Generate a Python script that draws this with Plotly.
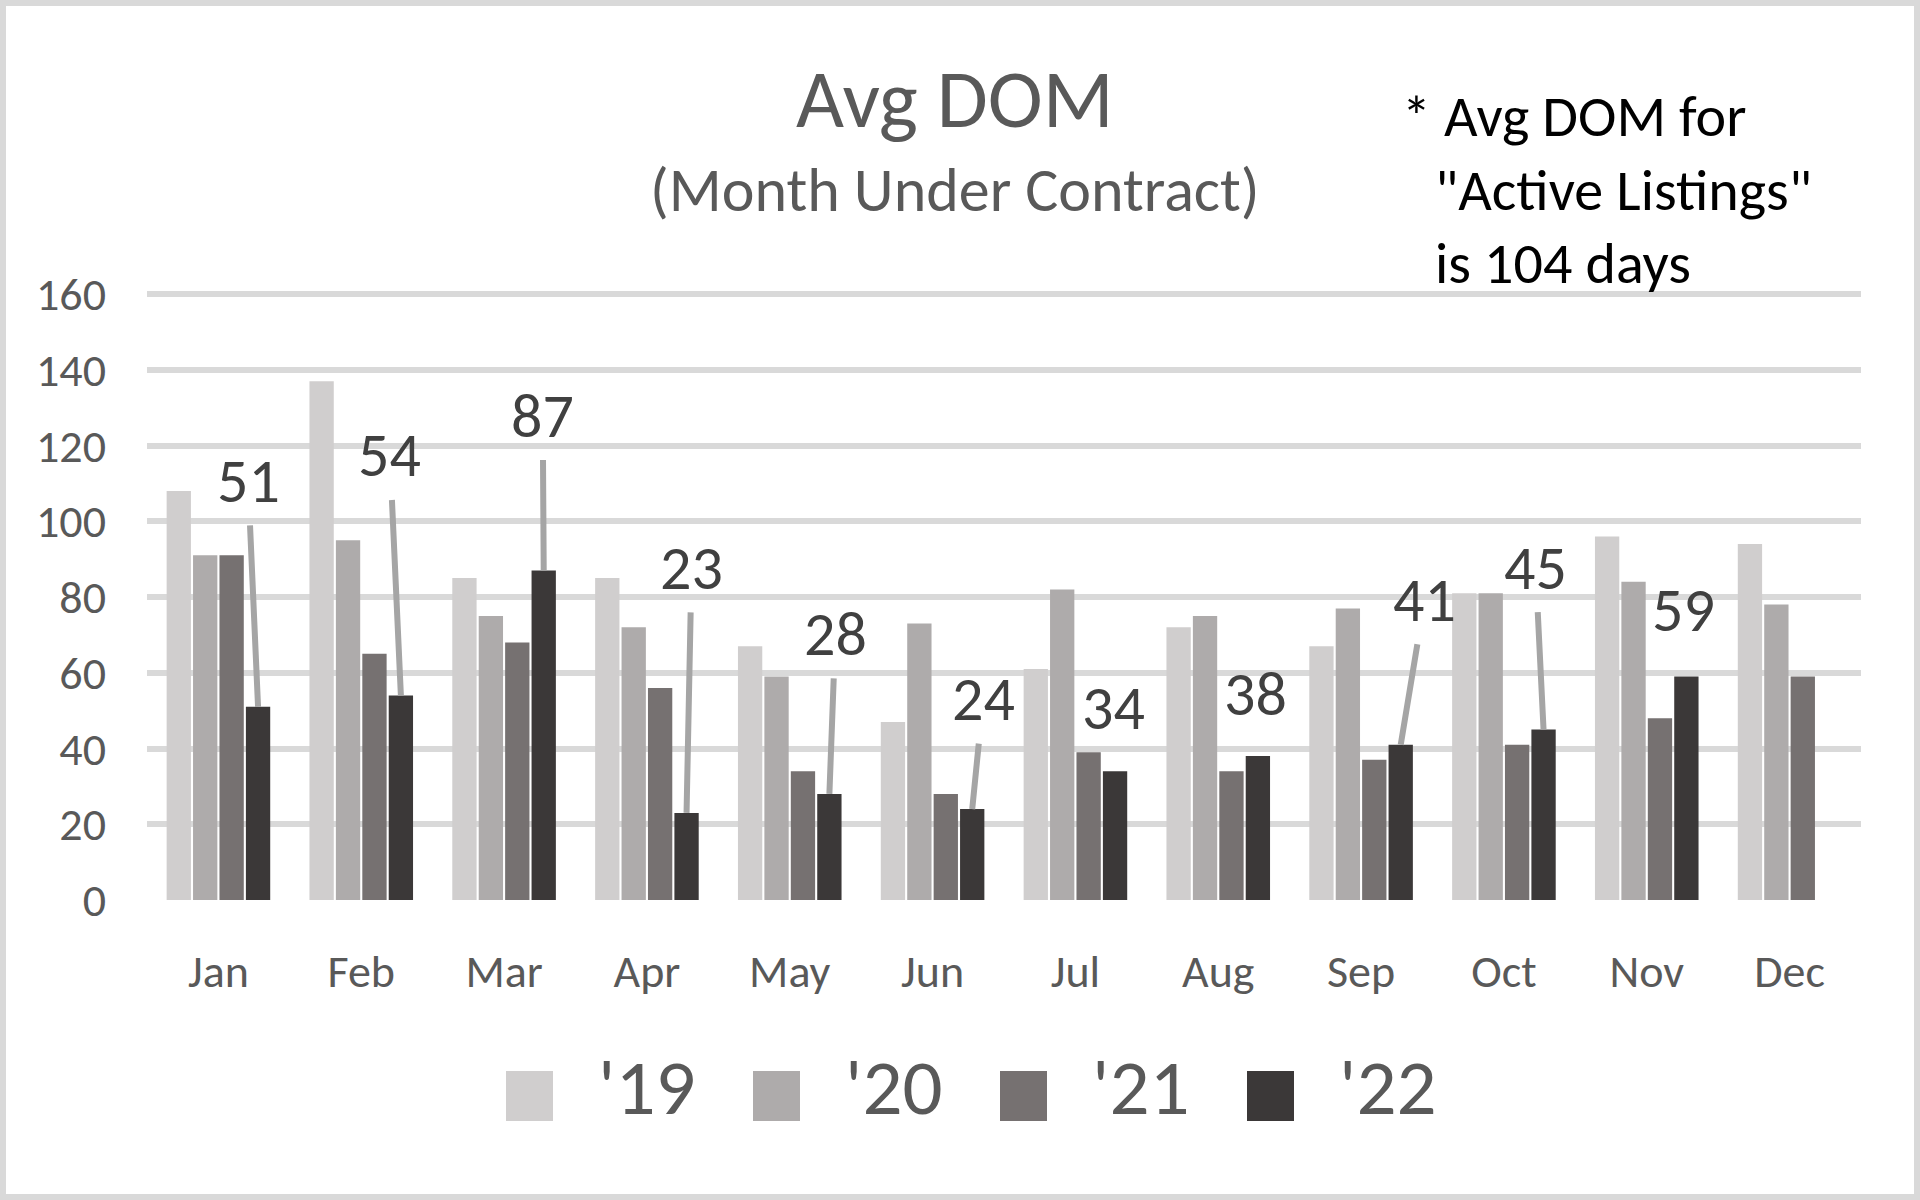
import plotly.graph_objects as go

# ---------------- data ----------------
months = ["Jan", "Feb", "Mar", "Apr", "May", "Jun", "Jul", "Aug", "Sep", "Oct", "Nov", "Dec"]
series_names = ["'19", "'20", "'21", "'22"]
dom_2019 = [108, 137, 85, 85, 67, 47, 61, 72, 67, 81, 96, 94]
dom_2020 = [91, 95, 75, 72, 59, 73, 82, 75, 77, 81, 84, 78]
dom_2021 = [91, 65, 68, 56, 34, 28, 39, 34, 37, 41, 48, 59]
dom_2022 = [51, 54, 87, 23, 28, 24, 34, 38, 41, 45, 59, None]
y_ticks = [0, 20, 40, 60, 80, 100, 120, 140, 160]

title_text = "Avg DOM"
subtitle_text = "(Month Under Contract)"
note_lines = ["* Avg DOM for", "\"Active Listings\"", "is 104 days"]

# ---------------- style ----------------
colors = ["#d0cece", "#aeabab", "#767171", "#3b3838"]
FONT = "Carlito, Lato, 'Open Sans', sans-serif"
W, H = 1920, 1200
Y_TOP = 160.8
PX_PER_UNIT = 606 / 160
ML, MR, MB = 147, 59, 300
MT = int(round(294 - (Y_TOP - 160) * PX_PER_UNIT))
PW, PH = W - ML - MR, H - MT - MB
BARGAP = 0.26
BARGROUPGAP = 0.08

# label offsets (pixels) of the '22 data labels relative to bar tops, and whether a leader line is drawn
label_offsets = [(-10, -226), (-11, -240), (-1, -155), (5, -245), (6, -160), (11, -110),
                 (-2, -63), (-2, -62), (24, -145), (-8, -162), (-3, -67)]
leader = [True, True, True, True, True, True, False, False, True, True, False]


def px(xpix):
    return (xpix - ML) / PW


def py(ypix):
    return (H - MB - ypix) / PH


fig = go.Figure()
for name, vals, col in zip(series_names, [dom_2019, dom_2020, dom_2021, dom_2022], colors):
    fig.add_trace(go.Bar(x=months, y=vals, name=name, marker=dict(color=col, line=dict(width=0)),
                         showlegend=False, hovertemplate="%{x} " + name + ": %{y}<extra></extra>"))

annotations = []
# data labels for '22
slot = (1 - BARGAP) / 4
for i, v in enumerate(dom_2022):
    if v is None:
        continue
    ax, ay = label_offsets[i]
    annotations.append(dict(
        x=i + 1.5 * slot, y=v, xref="x", yref="y", text=str(v),
        showarrow=True, arrowhead=0, arrowwidth=6, standoff=0,
        arrowcolor="#a5a5a5" if leader[i] else "rgba(0,0,0,0)",
        ax=ax, ay=ay, borderpad=6,
        font=dict(family=FONT, size=62, color="#404040")))

# title and subtitle
annotations.append(dict(text=title_text, x=px(955), y=py(98), xref="paper", yref="paper",
                        xanchor="center", yanchor="middle", showarrow=False,
                        font=dict(family=FONT, size=83, color="#595959")))
annotations.append(dict(text=subtitle_text, x=px(955), y=py(190), xref="paper", yref="paper",
                        xanchor="center", yanchor="middle", showarrow=False,
                        font=dict(family=FONT, size=62, color="#595959")))
# note
note_pos = [(1400, 117), (1433, 190), (1433, 263)]
for line, (nx, ny) in zip(note_lines, note_pos):
    annotations.append(dict(text=line, x=px(nx), y=py(ny), xref="paper", yref="paper",
                            xanchor="left", yanchor="middle", showarrow=False,
                            font=dict(family=FONT, size=58, color="#000000")))

# custom legend
shapes = []
leg_x0 = 506
leg_step = 247
for k, (name, col) in enumerate(zip(series_names, colors)):
    sx = leg_x0 + k * leg_step
    shapes.append(dict(type="rect", xref="paper", yref="paper",
                       x0=px(sx), x1=px(sx + 47), y0=py(1121), y1=py(1071),
                       fillcolor=col, line=dict(width=0)))
    annotations.append(dict(text=name, x=px(sx + 90), y=py(1121), xref="paper", yref="paper",
                            xanchor="left", yanchor="bottom", showarrow=False, yshift=-16,
                            font=dict(family=FONT, size=79, color="#595959")))

# outer border
shapes.append(dict(type="rect", xref="paper", yref="paper",
                   x0=px(3), x1=px(W - 3), y0=py(H - 3), y1=py(3),
                   line=dict(color="#d9d9d9", width=6), fillcolor="rgba(0,0,0,0)", layer="below"))

fig.update_layout(
    width=W, height=H,
    margin=dict(l=ML, r=MR, t=MT, b=MB),
    paper_bgcolor="white", plot_bgcolor="white",
    barmode="group", bargap=BARGAP, bargroupgap=BARGROUPGAP,
    annotations=annotations, shapes=shapes,
    font=dict(family=FONT, color="#595959"),
)
fig.update_xaxes(showgrid=False, showline=False, zeroline=False, ticks="",
                 tickfont=dict(family=FONT, size=46, color="#595959"),
                 ticklabelstandoff=40)
fig.update_yaxes(range=[0, Y_TOP], tickvals=y_ticks, showgrid=True, gridcolor="#d9d9d9", gridwidth=6,
                 zeroline=False, showline=False, ticks="",
                 tickfont=dict(family=FONT, size=46, color="#595959"),
                 ticklabelstandoff=40)

fig.write_html("out.html", config={"displayModeBar": False},
               post_script="document.body.style.margin='0';document.body.style.overflow='hidden';")
